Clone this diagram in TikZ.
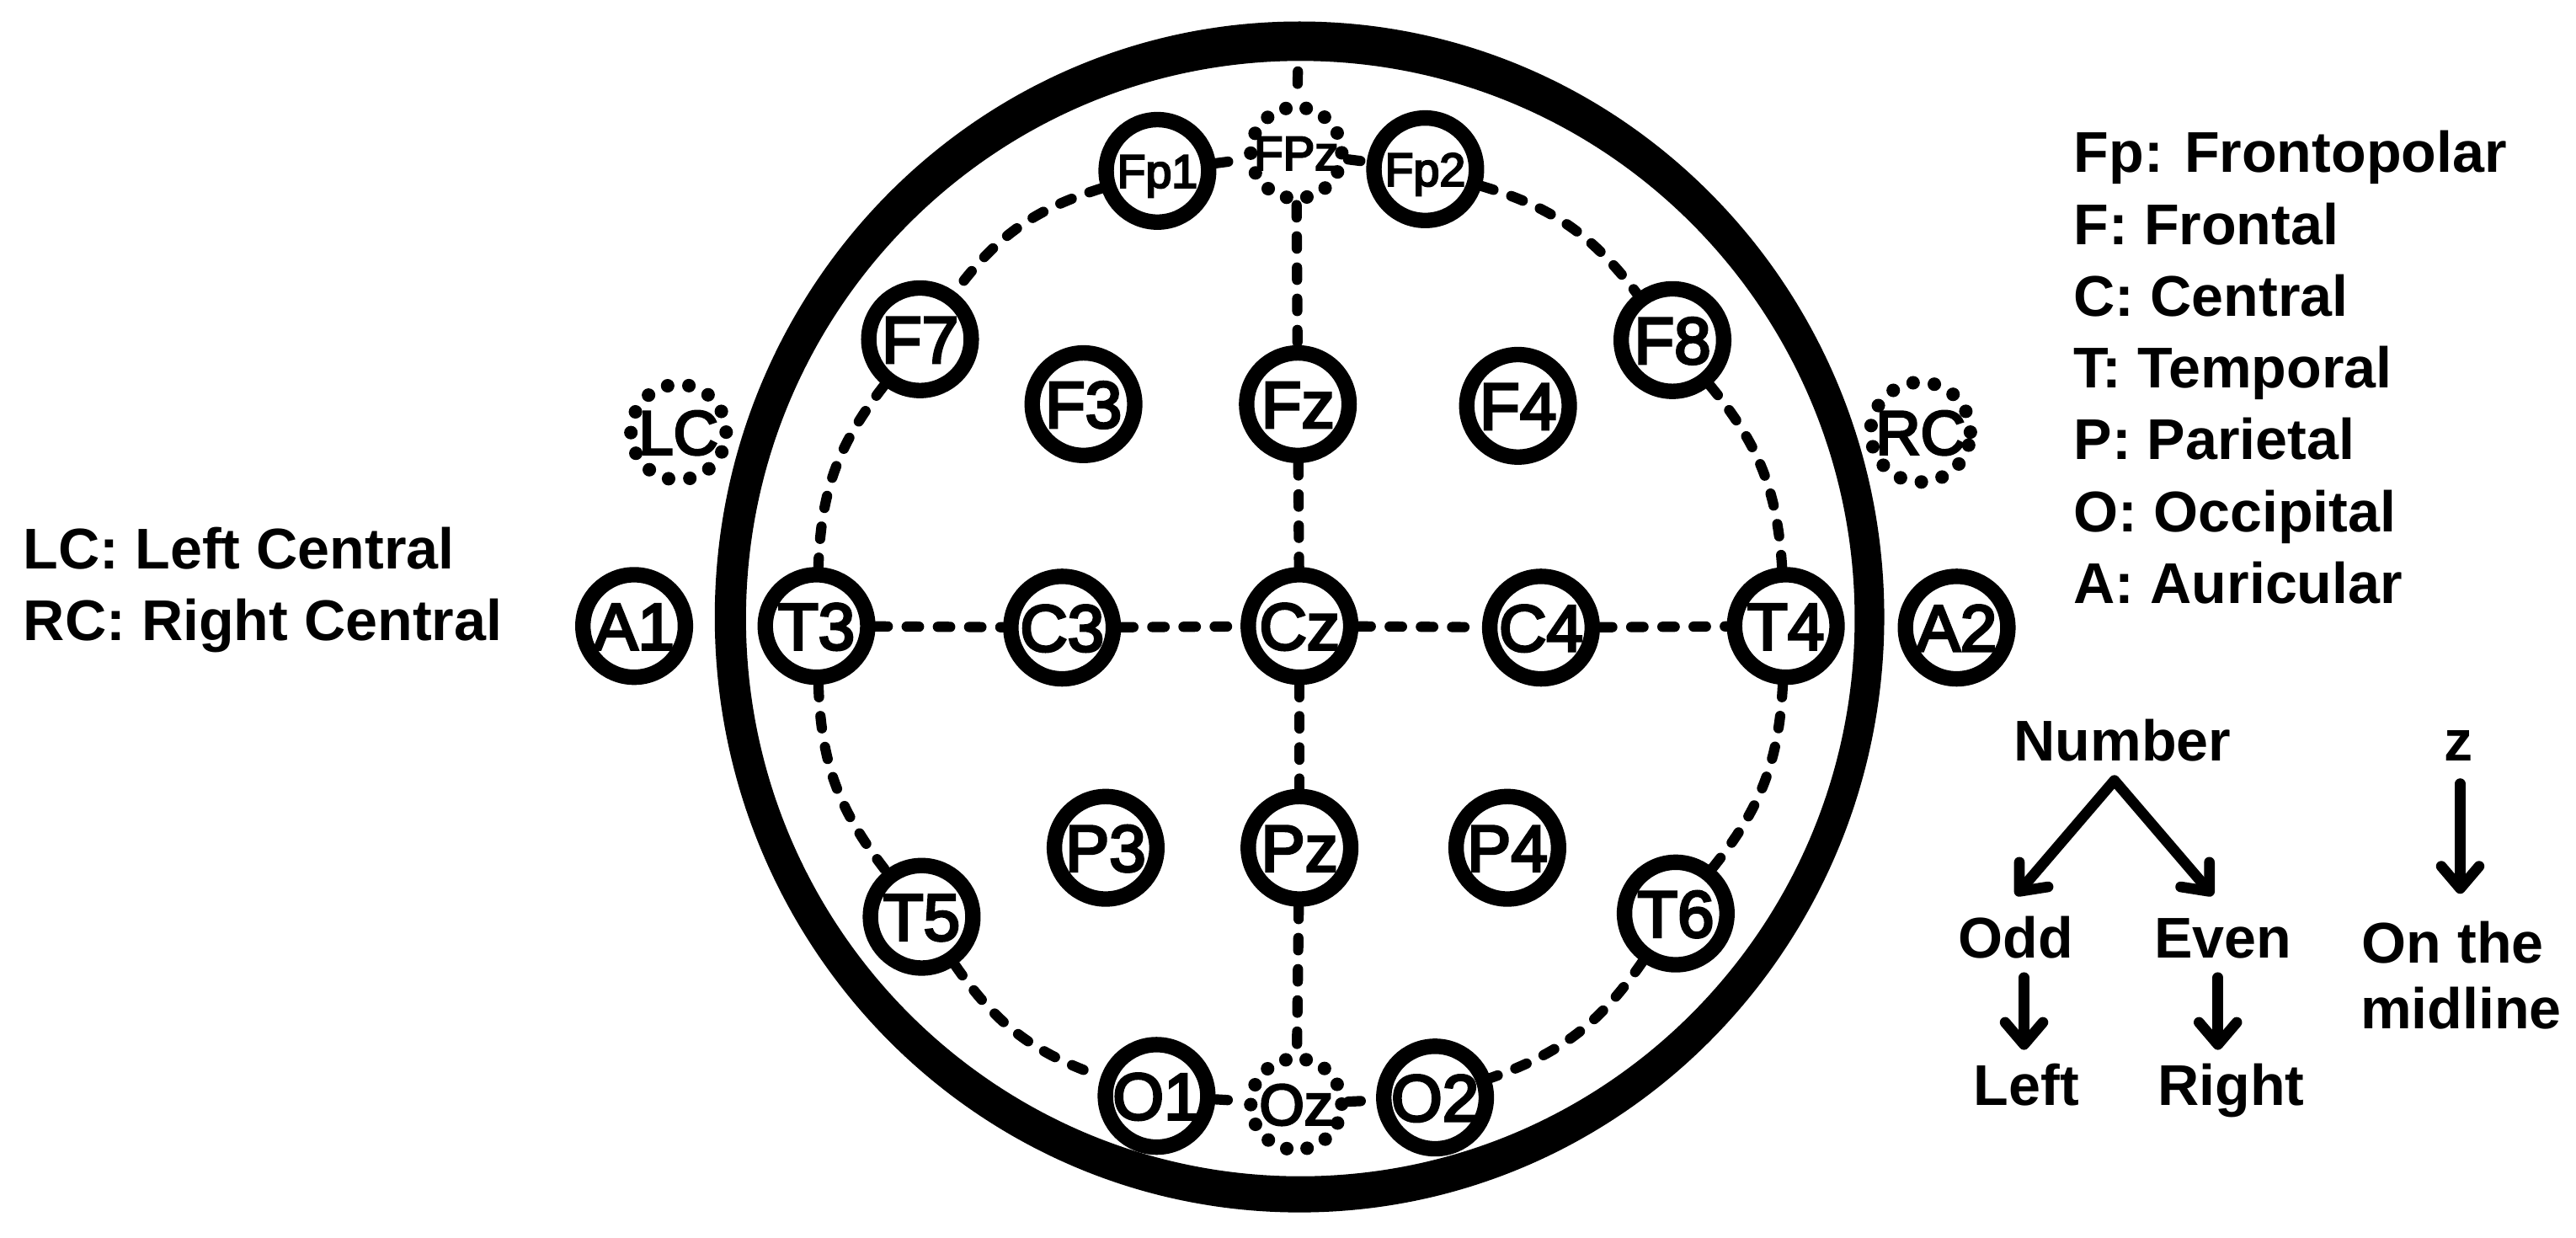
\documentclass[tikz,border=0pt]{standalone}
\usepackage{fontspec}
\setmainfont{Liberation Sans}
\newfontfamily\elfont[FakeBold=4]{Liberation Sans}
\usetikzlibrary{arrows.meta}
\tikzset{
  electrode/.style={circle, draw, line width=0.188cm, minimum size=1.248cm, inner sep=0pt,
    text height=16.3pt, text depth=0pt, font=\elfont\fontsize{22.8pt}{24pt}\selectfont},
  smallel/.style={text height=11.6pt, font=\elfont\fontsize{16.2pt}{18pt}\selectfont},
  dotring/.style={circle, draw, line width=0.165cm, line cap=round, inner sep=0pt,
    dash pattern=on 0pt off 0.2494cm, minimum size=1.108cm, text depth=0pt},
  bigdotring/.style={dotring, dash pattern=on 0pt off 0.2611cm, minimum size=1.16cm,
    text height=15.4pt, font=\elfont\fontsize{21.5pt}{23pt}\selectfont},
  link/.style={line width=0.125cm, line cap=round, dash pattern=on 0.15cm off 0.23cm},
  legend/.style={inner sep=0pt, font=\bfseries\fontsize{19.9pt}{22.8pt}\selectfont},
  arr/.style={line width=0.13cm, line cap=round, line join=round,
    -{Straight Barb[round, length=0.27cm, width=0.46cm]}},
  arrboth/.style={line width=0.13cm, line cap=round, line join=round,
    {Straight Barb[round, length=0.27cm, width=0.46cm]}-{Straight Barb[round, length=0.27cm, width=0.46cm]}}
}
\begin{document}
\begin{tikzpicture}[x=0.02cm, y=-0.02cm]
\useasboundingbox (0,0) rectangle (1568,753);
% head
\fill[black, even odd rule] (791,375.5) ellipse [x radius=7.12cm, y radius=7.25cm]
  (791.5,376.5) ellipse [x radius=6.75cm, y radius=6.79cm];

% electrodes
\node[electrode, smallel] (Fp1) at (704.5,104) {Fp1};
\node[dotring, text height=11.8pt, font=\elfont\fontsize{16.5pt}{18pt}\selectfont] (FPz) at (789,93) {FPz};
\node[electrode, smallel] (Fp2) at (867.5,103) {Fp2};

\node[electrode] (F7) at (560,206.5) {F7};
\node[electrode] (F3) at (659.5,246) {F3};
\node[electrode] (Fz) at (790,246) {Fz};
\node[electrode] (F4) at (924,247) {F4};
\node[electrode] (F8) at (1018,207) {F8};

\node[bigdotring] (LC) at (413,263) {LC};
\node[bigdotring] (RC) at (1169,263) {RC};

\node[electrode] (A1) at (386,381) {A1};
\node[electrode] (T3) at (497,381) {T3};
\node[electrode] (C3) at (646.5,382) {C3};
\node[electrode] (Cz) at (791,381) {Cz};
\node[electrode] (C4) at (938,382) {C4};
\node[electrode] (T4) at (1087,381) {T4};
\node[electrode] (A2) at (1191,382) {A2};

\node[electrode] (T5) at (561,558) {T5};
\node[electrode] (P3) at (673,516) {P3};
\node[electrode] (Pz) at (791,516) {Pz};
\node[electrode] (P4) at (917.5,516) {P4};
\node[electrode] (T6) at (1020,556) {T6};

\node[electrode] (O1) at (704,667) {O1};
\node[dotring, text height=14.3pt, font=\elfont\fontsize{20pt}{22pt}\selectfont] (Oz) at (789,672) {Oz};
\node[electrode] (O2) at (873.5,668) {O2};

% connectors
\coordinate (top) at (790,43.5);
\draw[link] (top) -- (FPz);
\draw[link] (Fp1) -- (FPz);
\draw[link] (FPz) -- (Fp2);
\draw[link] (FPz) -- (Fz);
\draw[link] (Fz) -- (Cz);
\draw[link] (Cz) -- (Pz);
\draw[link] (Pz) -- (Oz);
\draw[link] (O1) -- (Oz);
\draw[link] (Oz) -- (O2);
\draw[link] (T3) -- (C3);
\draw[link] (C3) -- (Cz);
\draw[link] (Cz) -- (C4);
\draw[link] (C4) -- (T4);
\draw[link] (Fp1) to[bend right=18] (F7);
\draw[link] (F7) to[bend right=18] (T3);
\draw[link] (T3) to[bend right=18] (T5);
\draw[link] (T5) to[bend right=18] (O1);
\draw[link] (Fp2) to[bend left=18] (F8);
\draw[link] (F8) to[bend left=18] (T4);
\draw[link] (T4) to[bend left=18] (T6);
\draw[link] (T6) to[bend left=18] (O2);

% legends
\node[legend, anchor=base west] (lFp) at (1262,105) {Fp: Frontopolar};
\node[legend, anchor=base west] (lF) at (1262,148.7) {F: Frontal};
\node[legend, anchor=base west] (lC) at (1262,192.4) {C: Central};
\node[legend, anchor=base west] (lT) at (1262,236.1) {T: Temporal};
\node[legend, anchor=base west] (lP) at (1262,279.8) {P: Parietal};
\node[legend, anchor=base west] (lO) at (1262,323.5) {O: Occipital};
\node[legend, anchor=base west] (lA) at (1262,367.2) {A: Auricular};

\node[legend, anchor=base west] (lLC) at (14,346) {LC: Left Central};
\node[legend, anchor=base west] (lRC) at (14,389.6) {RC: Right Central};

% tree
\node[legend, anchor=base] (Number) at (1292,463) {Number};
\node[legend, anchor=base] (z) at (1496.5,463) {z};
\node[legend, anchor=base] (Odd) at (1227,583) {Odd};
\node[legend, anchor=base] (Even) at (1353,583) {Even};
\node[legend, anchor=base] (Mid1) at (1493,586) {On the};
\node[legend, anchor=base] (Mid2) at (1498,626) {midline};
\node[legend, anchor=base] (Left) at (1233.5,673) {Left};
\node[legend, anchor=base] (Right) at (1358,673) {Right};

\coordinate (apex) at (1287,475);
\coordinate (oddtip) at (1227,545);
\coordinate (eventip) at (1347,545);
\draw[arrboth] (oddtip) -- (apex) -- (eventip);
\coordinate (zs) at (1497.5,477);
\coordinate (ze) at (1497.5,544);
\draw[arr] (zs) -- (ze);
\coordinate (os) at (1232,595);
\coordinate (oe) at (1232,639);
\draw[arr] (os) -- (oe);
\coordinate (es) at (1350,595);
\coordinate (ee) at (1350,639);
\draw[arr] (es) -- (ee);
\end{tikzpicture}
\end{document}
